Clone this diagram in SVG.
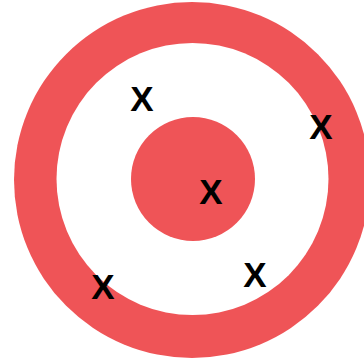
<svg xmlns="http://www.w3.org/2000/svg" width="364" height="363" viewBox="0 0 364 363">
<style>
.red{fill:#EF5457}
.x{font-family:"Liberation Sans",Arial,sans-serif;font-weight:bold;font-size:35px;fill:#000;text-anchor:middle}
</style>
<rect width="364" height="363" fill="#fff"/>
<g id="outer-ring"><circle class="red" cx="192" cy="180" r="178"/><circle cx="192.5" cy="179" r="136" fill="#fff"/></g>
<g id="bullseye"><circle class="red" cx="193" cy="179" r="62"/></g>
<g id="marks">
<text class="x" x="142" y="111">X</text>
<text class="x" x="321" y="139">X</text>
<text class="x" x="211" y="204">X</text>
<text class="x" x="255" y="286.5">X</text>
<text class="x" x="103" y="299">X</text>
</g>
</svg>
